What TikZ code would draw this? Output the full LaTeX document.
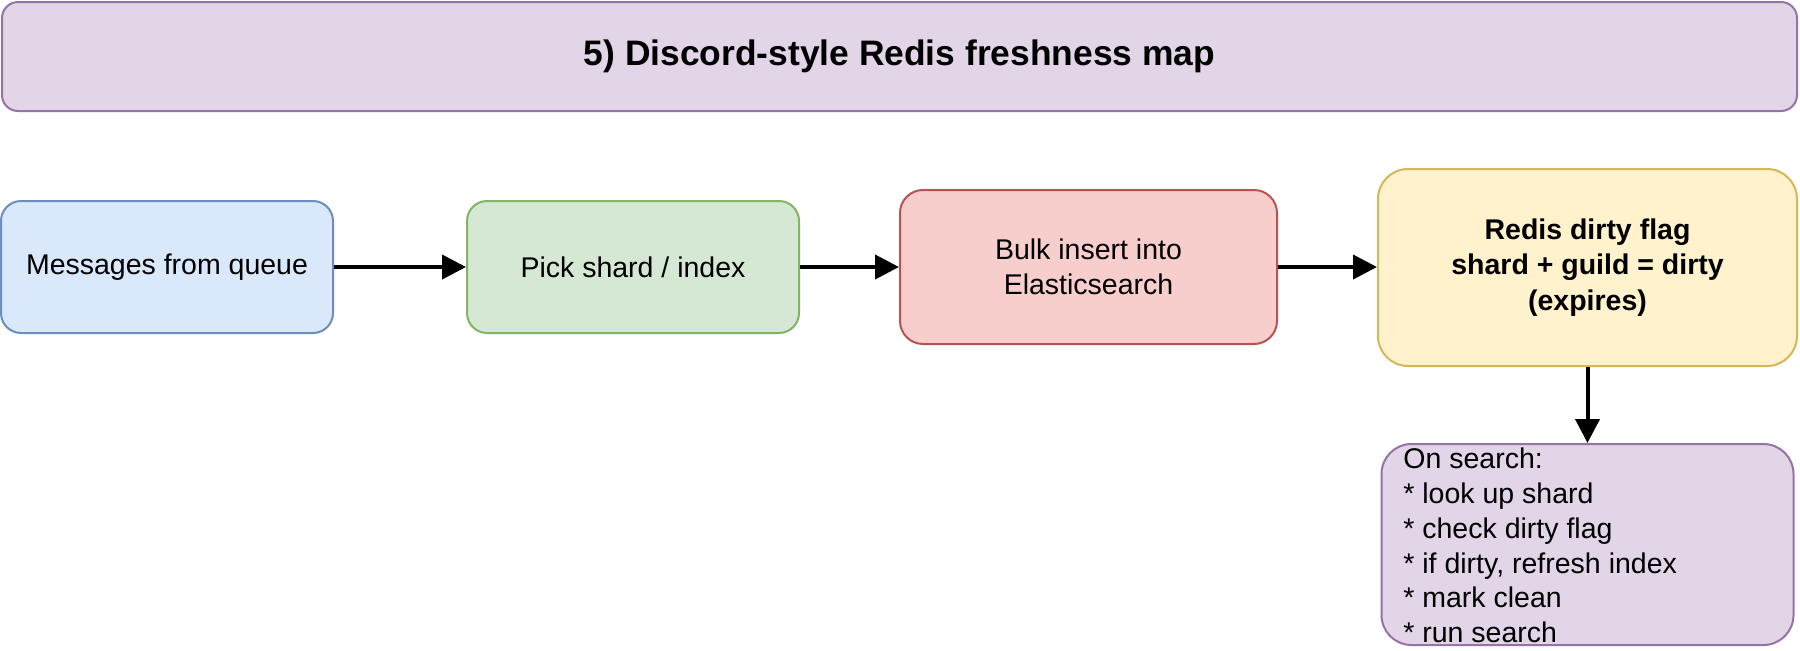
\documentclass[tikz,border=0pt]{standalone}
\usepackage{fontspec}
\setmainfont{Liberation Sans}
\usetikzlibrary{arrows.meta}
\definecolor{bluef}{HTML}{DAE8FC}\definecolor{blued}{HTML}{6C8EBF}
\definecolor{greenf}{HTML}{D5E8D4}\definecolor{greend}{HTML}{82B366}
\definecolor{redf}{HTML}{F8CECC}\definecolor{redd}{HTML}{B85450}
\definecolor{yellowf}{HTML}{FFF2CC}\definecolor{yellowd}{HTML}{D6B656}
\definecolor{purplef}{HTML}{E1D5E7}\definecolor{purpled}{HTML}{9673A6}
\begin{document}
\begin{tikzpicture}[x=0.5pt,y=-0.5pt,
  box/.style={draw, line width=1pt, inner sep=0pt, align=center,
    font=\fontsize{14.25}{17.6}\selectfont},
  bluebox/.style={box, fill=bluef, draw=blued, rounded corners=10pt},
  greenbox/.style={box, fill=greenf, draw=greend, rounded corners=10pt},
  redbox/.style={box, fill=redf, draw=redd, rounded corners=11.5pt},
  yellowbox/.style={box, fill=yellowf, draw=yellowd, rounded corners=15pt, font=\fontsize{14.25}{17.8}\selectfont\bfseries},
  purplebox/.style={box, fill=purplef, draw=purpled, rounded corners=15pt},
  arr/.style={line width=2pt, -{Triangle[length=12pt,width=12pt]}}]
\useasboundingbox (0,0) rectangle (1800,650);
\node[box, fill=purplef, draw=purpled, rounded corners=8pt, minimum width=897.5pt, minimum height=54.5pt,
  font=\fontsize{17.7}{21}\selectfont\bfseries] (title) at (899.5,56.5) {5) Discord-style Redis freshness map};
\node[bluebox, minimum width=166pt, minimum height=66pt] (b1) at (167,267) {Messages from queue};
\node[greenbox, minimum width=166pt, minimum height=66pt] (b2) at (633,267) {Pick shard / index};
\node[redbox, minimum width=188.5pt, minimum height=77pt] (b3) at (1088.5,267) {Bulk insert into\\Elasticsearch};
\node[yellowbox, minimum width=209.5pt, minimum height=98.5pt] (b4) at (1587.5,267.5) {Redis dirty flag\\shard + guild = dirty\\(expires)};
\node[purplebox, minimum width=206pt, minimum height=100.5pt] (b5) at (1587.5,544.5) {};
\node[inner sep=0pt, anchor=west, align=left, font=\fontsize{14.25}{17.35}\selectfont] (b5t) at (1403,545.5)
  {On search:\\* look up shard\\* check dirty flag\\* if dirty, refresh index\\* mark clean\\* run search};
\draw[arr] (b1.east) -- (b2.west);
\draw[arr] (b2.east) -- (b3.west);
\draw[arr] (b3.east) -- (b3.east -| b4.west);
\draw[arr] (b4.south) -- (b5.north);
\end{tikzpicture}
\end{document}
